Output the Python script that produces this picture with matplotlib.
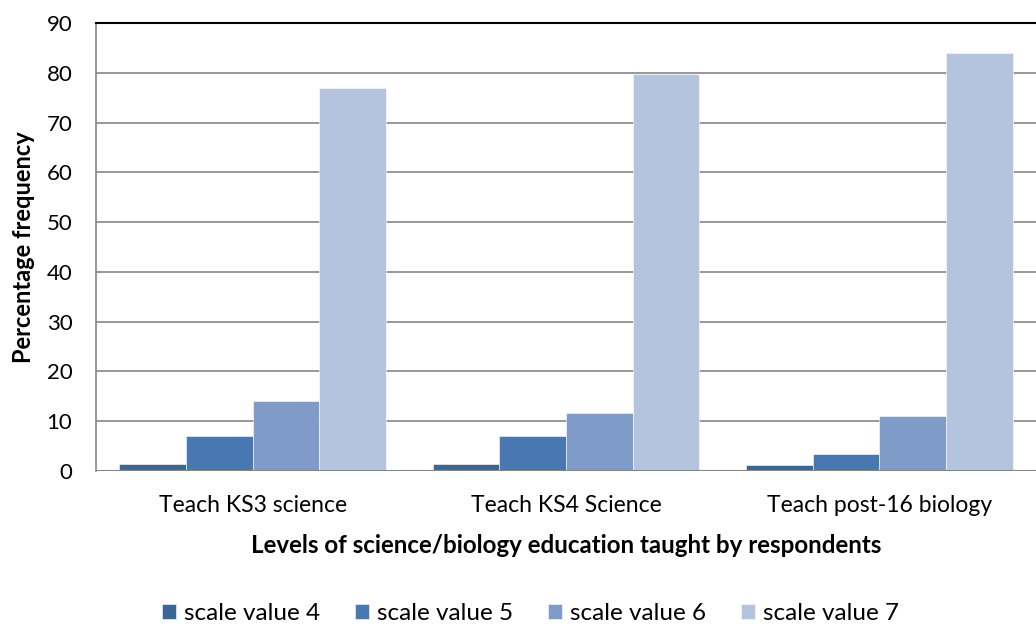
import numpy as np
import matplotlib.pyplot as plt

plt.rcParams['font.family'] = ['Lato', 'DejaVu Sans']

categories = ["Teach KS3 science", "Teach KS4 Science", "Teach post-16 biology"]
series = ["scale value 4", "scale value 5", "scale value 6", "scale value 7"]
values = [
    [1.4, 1.35, 1.2],
    [7.1, 7.0, 3.4],
    [14.0, 11.6, 11.0],
    [77.0, 79.7, 84.0],
]
colors = ["#3d6593", "#4877b1", "#7f9bc8", "#b4c4df"]

fig = plt.figure(figsize=(10.36, 6.3), dpi=100)
ax = fig.add_axes([0.0927, 0.2524, 0.9073, 0.7111])

x = np.arange(len(categories))
w = 0.213
for i, (name, vals) in enumerate(zip(series, values)):
    ax.bar(x + (i - 1.5) * w, vals, width=w, color=colors[i], label=name,
           edgecolor="white", linewidth=0.4, zorder=3)

ax.set_xlim(-0.5, 2.5)
ax.set_ylim(0, 90)
ax.set_yticks(range(0, 91, 10))
ax.yaxis.grid(True, color="#868686", linewidth=1.2, zorder=0)
ax.set_xticks(x)
ax.set_xticklabels(categories, fontsize=16.5)
ax.tick_params(axis="y", labelsize=16, length=0, pad=17)
ax.tick_params(axis="x", length=0, pad=17)
for s in ["right", "bottom"]:
    ax.spines[s].set_visible(False)
ax.spines["left"].set_color("#868686")
ax.spines["left"].set_linewidth(1.2)
ax.spines["top"].set_color("black")
ax.spines["top"].set_linewidth(1.5)
ax.axhline(0, color="#868686", linewidth=1.5, zorder=4)

ax.set_xlabel("Levels of science/biology education taught by respondents",
              fontsize=17.4, fontweight="bold", labelpad=13)
ax.set_ylabel("Percentage frequency", fontsize=17, fontweight="bold", labelpad=8)

fig.legend(loc="center", bbox_to_anchor=(0.512, 0.026), ncol=4, frameon=False,
           fontsize=17.5, handlelength=0.58, handleheight=0.58, handletextpad=0.33,
           columnspacing=1.44, borderpad=0)

fig.savefig("out.png", dpi=100)
